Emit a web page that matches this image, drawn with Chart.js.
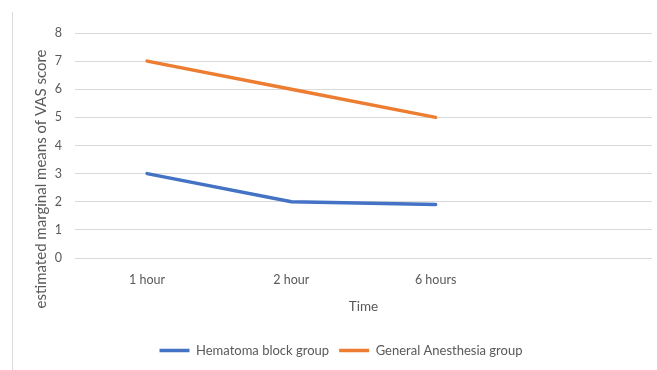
<!DOCTYPE html>
<html>
<head>
<meta charset="utf-8">
<script src="https://cdn.jsdelivr.net/npm/chart.js@4/dist/chart.umd.min.js"></script>
<style>
  html, body { margin: 0; padding: 0; background: #ffffff; }
  #wrap { position: relative; width: 657px; height: 370px; }
  #frame { position: absolute; left: 12px; top: 12px; width: 0; height: 358px; border-left: 1px solid #d9d9d9; }
  canvas { position: absolute; left: 0; top: 0; }
</style>
</head>
<body>
<div id="wrap">
  <div id="frame"></div>
  <canvas id="chart" width="657" height="370"></canvas>
</div>
<script>
// Time points (last slot left empty as in the layout of the plot)
const timeLabels = ['1 hour', '2 hour', '6 hours', ''];
// Estimated marginal means of the VAS score per group
const hematomaBlock = [3, 2, 1.9, null];
const generalAnesthesia = [7, 6, 5, null];
const yTicks = [0, 1, 2, 3, 4, 5, 6, 7, 8];

const textColor = '#595959';
const gridColor = '#d9d9d9';
const fontFamily = 'Lato, "Open Sans", sans-serif';
const yTitleText = 'estimated marginal means of VAS score';

// Rotated y-axis title drawn beside the tick labels
const yTitlePlugin = {
  id: 'yTitle',
  afterDraw(chart) {
    const ctx = chart.ctx;
    ctx.save();
    ctx.translate(41, 179);
    ctx.rotate(-Math.PI / 2);
    ctx.font = '15px ' + fontFamily;
    ctx.fillStyle = textColor;
    ctx.textAlign = 'center';
    ctx.textBaseline = 'middle';
    ctx.fillText(yTitleText, 0, 0);
    ctx.restore();
  }
};

// Nudge the legend row a little to the right of the canvas centre
const legendShift = {
  id: 'legendShift',
  beforeDraw(chart) {
    if (chart.legend) { chart.legend.left = 30; }
  }
};

new Chart(document.getElementById('chart'), {
  type: 'line',
  data: {
    labels: timeLabels,
    datasets: [
      {
        label: 'Hematoma block group',
        data: hematomaBlock,
        borderColor: '#4472C4',
        backgroundColor: '#4472C4',
        borderWidth: 3.5,
        pointRadius: 0,
        tension: 0,
        borderCapStyle: 'round'
      },
      {
        label: 'General Anesthesia group',
        data: generalAnesthesia,
        borderColor: '#ED7D31',
        backgroundColor: '#ED7D31',
        borderWidth: 3.5,
        pointRadius: 0,
        tension: 0,
        borderCapStyle: 'round'
      }
    ]
  },
  options: {
    responsive: false,
    animation: false,
    layout: { padding: { left: 0, right: 5, top: 33, bottom: 3 } },
    plugins: {
      tooltip: { enabled: false },
      legend: {
        position: 'bottom',
        labels: {
          color: textColor,
          font: { family: fontFamily, size: 13 },
          usePointStyle: true,
          pointStyle: 'line',
          pointStyleWidth: 30,
          padding: 10
        }
      }
    },
    scales: {
      x: {
        offset: true,
        grid: { display: false, drawTicks: false },
        border: { display: false },
        ticks: { color: textColor, font: { family: fontFamily, size: 12.5 }, padding: 14, maxRotation: 0 },
        title: { display: true, text: 'Time', color: textColor, font: { family: fontFamily, size: 13.5 }, padding: { top: 4, bottom: 19 } },
        afterFit(scale) { scale.height = 76; }
      },
      y: {
        min: 0,
        max: 8,
        afterBuildTicks(scale) { scale.ticks = yTicks.map(v => ({ value: v })); },
        grid: { color: gridColor, drawTicks: false, lineWidth: 1 },
        border: { display: false },
        ticks: { color: textColor, font: { family: fontFamily, size: 12.5 }, padding: 13 },
        afterFit(scale) { scale.width = 75; }
      }
    }
  },
  plugins: [yTitlePlugin, legendShift]
});
</script>
</body>
</html>
